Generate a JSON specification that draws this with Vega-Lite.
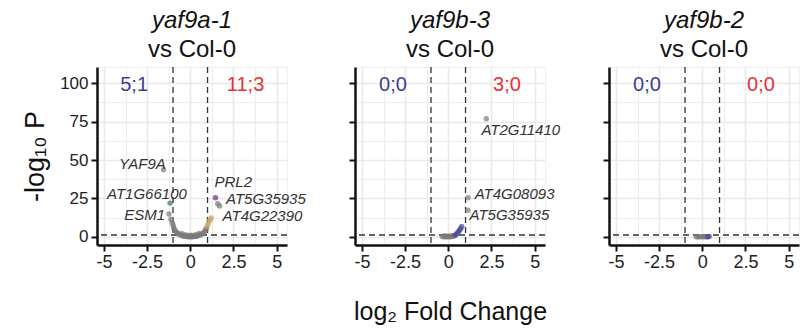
{
  "$schema": "https://vega.github.io/schema/vega-lite/v6.json",
  "padding": {"left": 21, "top": 8, "right": 2, "bottom": 2},
  "background": "white",
  "spacing": 40,
  "config": {
    "font": "Liberation Sans",
    "view": {"stroke": "#f0f0f0"},
    "title": {"font": "Liberation Sans", "fontSize": 24, "fontStyle": "italic", "fontWeight": "normal", "color": "#111", "subtitleFont": "Liberation Sans", "subtitleFontSize": 24, "subtitleColor": "#111", "subtitlePadding": 5, "offset": 4, "anchor": "middle", "frame": "group"},
    "axis": {"domainColor": "#111", "domainWidth": 2.5, "tickColor": "#111", "tickWidth": 2, "tickSize": 6, "gridColor": "#e9e9e9", "labelColor": "#222", "labelFont": "Liberation Sans", "labelFontSize": 17, "titleFont": "Liberation Sans", "titleFontWeight": "normal", "titleColor": "#111"}
  },
  "datasets": {
    "points": [
      {"panel": "A", "lfc": -1.55, "nlp": 43.7, "grp": "ns"},
      {"panel": "A", "lfc": -1.23, "nlp": 15, "grp": "ns"},
      {"panel": "A", "lfc": -1.12, "nlp": 11.5, "grp": "ns"},
      {"panel": "A", "lfc": -1.05, "nlp": 9.5, "grp": "ns"},
      {"panel": "A", "lfc": -1.0, "nlp": 8, "grp": "ns"},
      {"panel": "A", "lfc": -0.97, "nlp": 6.5, "grp": "ns"},
      {"panel": "A", "lfc": -0.93, "nlp": 5.2, "grp": "ns"},
      {"panel": "A", "lfc": -0.88, "nlp": 4.2, "grp": "ns"},
      {"panel": "A", "lfc": -0.82, "nlp": 3.3, "grp": "ns"},
      {"panel": "A", "lfc": -0.75, "nlp": 2.6, "grp": "ns"},
      {"panel": "A", "lfc": -0.68, "nlp": 2, "grp": "ns"},
      {"panel": "A", "lfc": -0.6, "nlp": 1.5, "grp": "ns"},
      {"panel": "A", "lfc": -0.52, "nlp": 1.1, "grp": "ns"},
      {"panel": "A", "lfc": -0.44, "nlp": 0.8, "grp": "ns"},
      {"panel": "A", "lfc": -0.36, "nlp": 0.55, "grp": "ns"},
      {"panel": "A", "lfc": -0.28, "nlp": 0.4, "grp": "ns"},
      {"panel": "A", "lfc": -0.2, "nlp": 0.3, "grp": "ns"},
      {"panel": "A", "lfc": -0.12, "nlp": 0.2, "grp": "ns"},
      {"panel": "A", "lfc": -0.04, "nlp": 0.15, "grp": "ns"},
      {"panel": "A", "lfc": 0.04, "nlp": 0.15, "grp": "ns"},
      {"panel": "A", "lfc": 0.12, "nlp": 0.2, "grp": "ns"},
      {"panel": "A", "lfc": 0.2, "nlp": 0.3, "grp": "ns"},
      {"panel": "A", "lfc": 0.28, "nlp": 0.4, "grp": "ns"},
      {"panel": "A", "lfc": 0.36, "nlp": 0.55, "grp": "ns"},
      {"panel": "A", "lfc": 0.44, "nlp": 0.8, "grp": "ns"},
      {"panel": "A", "lfc": 0.52, "nlp": 1.1, "grp": "ns"},
      {"panel": "A", "lfc": 0.6, "nlp": 1.5, "grp": "ns"},
      {"panel": "A", "lfc": 0.68, "nlp": 2, "grp": "ns"},
      {"panel": "A", "lfc": 0.75, "nlp": 2.6, "grp": "ns"},
      {"panel": "A", "lfc": 0.82, "nlp": 3.4, "grp": "ns"},
      {"panel": "A", "lfc": 0.88, "nlp": 4.5, "grp": "ns"},
      {"panel": "A", "lfc": 0.93, "nlp": 5.6, "grp": "ns"},
      {"panel": "A", "lfc": -0.3, "nlp": 1.5, "grp": "ns"},
      {"panel": "A", "lfc": 0.3, "nlp": 1.5, "grp": "ns"},
      {"panel": "A", "lfc": 0.0, "nlp": 1.2, "grp": "ns"},
      {"panel": "A", "lfc": -0.15, "nlp": 1.0, "grp": "ns"},
      {"panel": "A", "lfc": 0.15, "nlp": 1.0, "grp": "ns"},
      {"panel": "A", "lfc": -0.5, "nlp": 2.2, "grp": "ns"},
      {"panel": "A", "lfc": 0.5, "nlp": 2.2, "grp": "ns"},
      {"panel": "A", "lfc": 1.59, "nlp": 21.6, "grp": "ns"},
      {"panel": "A", "lfc": 1.7, "nlp": 20.2, "grp": "ns"},
      {"panel": "A", "lfc": -1.17, "nlp": 22, "grp": "green"},
      {"panel": "A", "lfc": 1.46, "nlp": 25.5, "grp": "purple"},
      {"panel": "A", "lfc": 0.98, "nlp": 7, "grp": "tan"},
      {"panel": "A", "lfc": 1.03, "nlp": 8.5, "grp": "tan"},
      {"panel": "A", "lfc": 1.08, "nlp": 10, "grp": "tan"},
      {"panel": "A", "lfc": 1.15, "nlp": 11.2, "grp": "tan"},
      {"panel": "A", "lfc": 1.21, "nlp": 12.3, "grp": "tan"},
      {"panel": "B", "lfc": 2.2, "nlp": 76.8, "grp": "ns"},
      {"panel": "B", "lfc": 1.14, "nlp": 25.5, "grp": "ns"},
      {"panel": "B", "lfc": 1.14, "nlp": 17.3, "grp": "ns"},
      {"panel": "B", "lfc": -0.35, "nlp": 0.3, "grp": "ns"},
      {"panel": "B", "lfc": -0.25, "nlp": 0.2, "grp": "ns"},
      {"panel": "B", "lfc": -0.15, "nlp": 0.1, "grp": "ns"},
      {"panel": "B", "lfc": -0.05, "nlp": 0.1, "grp": "ns"},
      {"panel": "B", "lfc": 0.05, "nlp": 0.1, "grp": "ns"},
      {"panel": "B", "lfc": 0.15, "nlp": 0.2, "grp": "ns"},
      {"panel": "B", "lfc": 0.25, "nlp": 0.4, "grp": "ns"},
      {"panel": "B", "lfc": -0.2, "nlp": 0.8, "grp": "ns"},
      {"panel": "B", "lfc": 0.0, "nlp": 0.6, "grp": "ns"},
      {"panel": "B", "lfc": 0.2, "nlp": 0.8, "grp": "ns"},
      {"panel": "B", "lfc": 0.35, "nlp": 0.8, "grp": "ns"},
      {"panel": "B", "lfc": 0.4, "nlp": 1.2, "grp": "navy"},
      {"panel": "B", "lfc": 0.47, "nlp": 1.8, "grp": "navy"},
      {"panel": "B", "lfc": 0.53, "nlp": 2.6, "grp": "navy"},
      {"panel": "B", "lfc": 0.6, "nlp": 3.5, "grp": "navy"},
      {"panel": "B", "lfc": 0.66, "nlp": 4.5, "grp": "navy"},
      {"panel": "B", "lfc": 0.72, "nlp": 5.5, "grp": "navy"},
      {"panel": "B", "lfc": 0.78, "nlp": 6.8, "grp": "navy"},
      {"panel": "C", "lfc": -0.35, "nlp": 0.2, "grp": "ns"},
      {"panel": "C", "lfc": -0.25, "nlp": 0.1, "grp": "ns"},
      {"panel": "C", "lfc": -0.15, "nlp": 0.1, "grp": "ns"},
      {"panel": "C", "lfc": -0.05, "nlp": 0.1, "grp": "ns"},
      {"panel": "C", "lfc": 0.05, "nlp": 0.1, "grp": "ns"},
      {"panel": "C", "lfc": 0.15, "nlp": 0.1, "grp": "ns"},
      {"panel": "C", "lfc": 0.25, "nlp": 0.2, "grp": "ns"},
      {"panel": "C", "lfc": 0.32, "nlp": 0.2, "grp": "navy"},
      {"panel": "C", "lfc": 0.4, "nlp": 0.3, "grp": "navy"}
    ],
    "labels": [
      {"panel": "A", "lx": -1.42, "ly": 47.6, "text": "YAF9A", "side": "right"},
      {"panel": "A", "lx": -0.2, "ly": 28, "text": "AT1G66100", "side": "right"},
      {"panel": "A", "lx": -1.46, "ly": 14.3, "text": "ESM1", "side": "right"},
      {"panel": "A", "lx": 1.4, "ly": 35.7, "text": "PRL2", "side": "left"},
      {"panel": "A", "lx": 2.07, "ly": 24.5, "text": "AT5G35935", "side": "left"},
      {"panel": "A", "lx": 1.87, "ly": 13.8, "text": "AT4G22390", "side": "left"},
      {"panel": "B", "lx": 1.92, "ly": 69.5, "text": "AT2G11410", "side": "left"},
      {"panel": "B", "lx": 1.53, "ly": 28, "text": "AT4G08093", "side": "left"},
      {"panel": "B", "lx": 1.23, "ly": 14.3, "text": "AT5G35935", "side": "left"}
    ],
    "counts": [
      {"panel": "A", "cx": -3.25, "cy": 99, "text": "5;1", "grp": "down"},
      {"panel": "A", "cx": 3.2, "cy": 99, "text": "11;3", "grp": "up"},
      {"panel": "B", "cx": -3.2, "cy": 99, "text": "0;0", "grp": "down"},
      {"panel": "B", "cx": 3.4, "cy": 99, "text": "3;0", "grp": "up"},
      {"panel": "C", "cx": -3.2, "cy": 99, "text": "0;0", "grp": "down"},
      {"panel": "C", "cx": 3.4, "cy": 99, "text": "0;0", "grp": "up"}
    ],
    "vlines": [{"v": -1}, {"v": 1}],
    "hlines": [{"h": 1.3}]
  },
  "hconcat": [
    {
      "title": {"text": "yaf9a-1", "subtitle": "vs Col-0"},
      "width": 190, "height": 178,
      "encoding": {
        "x": {"type": "quantitative", "scale": {"domain": [-5.4, 5.6], "nice": false, "zero": false},
          "axis": {"title": null, "values": [-5, -3.75, -2.5, -1.25, 0, 1.25, 2.5, 3.75, 5], "labelExpr": "datum.value % 2.5 == 0 ? toString(datum.value) : ''", "labelFontSize": 18, "labelPadding": 2, "tickOpacity": {"condition": {"test": "datum.value % 2.5 == 0", "value": 1}, "value": 0}, "gridWidth": {"condition": {"test": "datum.value % 2.5 == 0", "value": 1.6}, "value": 0.8}}},
        "y": {"type": "quantitative", "scale": {"domain": [-5.2, 110.4], "nice": false, "zero": false},
          "axis": {"title": "-log₁₀ P", "titleFontSize": 27, "titlePadding": 10, "values": [0, 12.5, 25, 37.5, 50, 62.5, 75, 87.5, 100], "labelExpr": "datum.value % 25 == 0 ? toString(datum.value) : ''", "labelPadding": 3, "tickOpacity": {"condition": {"test": "datum.value % 25 == 0", "value": 1}, "value": 0}, "gridWidth": {"condition": {"test": "datum.value % 25 == 0", "value": 1.6}, "value": 0.8}}}
      },
      "layer": [
        {"data": {"name": "vlines"}, "mark": {"type": "rule", "color": "#333", "strokeDash": [6, 4], "strokeWidth": 1.3}, "encoding": {"x": {"field": "v"}}},
        {"data": {"name": "hlines"}, "mark": {"type": "rule", "color": "#333", "strokeDash": [6, 4], "strokeWidth": 1.3}, "encoding": {"y": {"field": "h"}}},
        {"data": {"name": "points"}, "transform": [{"filter": "datum.panel == 'A'"}], "mark": {"type": "circle", "size": 30, "opacity": 0.7},
          "encoding": {"x": {"field": "lfc"}, "y": {"field": "nlp"}, "color": {"field": "grp", "type": "nominal", "legend": null, "scale": {"domain": ["ns", "green", "purple", "tan", "navy", "down", "up"], "range": ["#7a7a7a", "#2f7a5a", "#6b2a78", "#c8a46e", "#4a4a9a", "#3b3f8c", "#e8303a"]}}}},
        {"data": {"name": "labels"}, "transform": [{"filter": "datum.panel == 'A' && datum.side == 'right'"}], "mark": {"type": "text", "align": "right", "baseline": "middle", "fontSize": 15, "fontStyle": "italic", "color": "#333"},
          "encoding": {"x": {"field": "lx"}, "y": {"field": "ly"}, "text": {"field": "text"}}},
        {"data": {"name": "labels"}, "transform": [{"filter": "datum.panel == 'A' && datum.side == 'left'"}], "mark": {"type": "text", "align": "left", "baseline": "middle", "fontSize": 15, "fontStyle": "italic", "color": "#333"},
          "encoding": {"x": {"field": "lx"}, "y": {"field": "ly"}, "text": {"field": "text"}}},
        {"data": {"name": "counts"}, "transform": [{"filter": "datum.panel == 'A'"}], "mark": {"type": "text", "align": "center", "baseline": "middle", "fontSize": 20},
          "encoding": {"x": {"field": "cx"}, "y": {"field": "cy"}, "text": {"field": "text"}, "color": {"field": "grp", "type": "nominal", "legend": null, "scale": {"domain": ["ns", "green", "purple", "tan", "navy", "down", "up"], "range": ["#7a7a7a", "#2f7a5a", "#6b2a78", "#c8a46e", "#4a4a9a", "#3b3f8c", "#e8303a"]}}}}
      ]
    },
    {
      "title": {"text": "yaf9b-3", "subtitle": "vs Col-0"},
      "width": 190, "height": 178,
      "encoding": {
        "x": {"type": "quantitative", "scale": {"domain": [-5.4, 5.6], "nice": false, "zero": false},
          "axis": {"title": "log₂ Fold Change", "titleFontSize": 25, "titlePadding": 28, "values": [-5, -3.75, -2.5, -1.25, 0, 1.25, 2.5, 3.75, 5], "labelExpr": "datum.value % 2.5 == 0 ? toString(datum.value) : ''", "labelFontSize": 18, "labelPadding": 2, "tickOpacity": {"condition": {"test": "datum.value % 2.5 == 0", "value": 1}, "value": 0}, "gridWidth": {"condition": {"test": "datum.value % 2.5 == 0", "value": 1.6}, "value": 0.8}}},
        "y": {"type": "quantitative", "scale": {"domain": [-5.2, 110.4], "nice": false, "zero": false},
          "axis": {"title": null, "values": [0, 12.5, 25, 37.5, 50, 62.5, 75, 87.5, 100], "labelExpr": "''", "labelPadding": 0, "tickOpacity": {"condition": {"test": "datum.value % 25 == 0", "value": 1}, "value": 0}, "gridWidth": {"condition": {"test": "datum.value % 25 == 0", "value": 1.6}, "value": 0.8}}}
      },
      "layer": [
        {"data": {"name": "vlines"}, "mark": {"type": "rule", "color": "#333", "strokeDash": [6, 4], "strokeWidth": 1.3}, "encoding": {"x": {"field": "v"}}},
        {"data": {"name": "hlines"}, "mark": {"type": "rule", "color": "#333", "strokeDash": [6, 4], "strokeWidth": 1.3}, "encoding": {"y": {"field": "h"}}},
        {"data": {"name": "points"}, "transform": [{"filter": "datum.panel == 'B'"}], "mark": {"type": "circle", "size": 30, "opacity": 0.7},
          "encoding": {"x": {"field": "lfc"}, "y": {"field": "nlp"}, "color": {"field": "grp", "type": "nominal", "legend": null, "scale": {"domain": ["ns", "green", "purple", "tan", "navy", "down", "up"], "range": ["#7a7a7a", "#2f7a5a", "#6b2a78", "#c8a46e", "#4a4a9a", "#3b3f8c", "#e8303a"]}}}},
        {"data": {"name": "labels"}, "transform": [{"filter": "datum.panel == 'B' && datum.side == 'left'"}], "mark": {"type": "text", "align": "left", "baseline": "middle", "fontSize": 15, "fontStyle": "italic", "color": "#333"},
          "encoding": {"x": {"field": "lx"}, "y": {"field": "ly"}, "text": {"field": "text"}}},
        {"data": {"name": "counts"}, "transform": [{"filter": "datum.panel == 'B'"}], "mark": {"type": "text", "align": "center", "baseline": "middle", "fontSize": 20},
          "encoding": {"x": {"field": "cx"}, "y": {"field": "cy"}, "text": {"field": "text"}, "color": {"field": "grp", "type": "nominal", "legend": null, "scale": {"domain": ["ns", "green", "purple", "tan", "navy", "down", "up"], "range": ["#7a7a7a", "#2f7a5a", "#6b2a78", "#c8a46e", "#4a4a9a", "#3b3f8c", "#e8303a"]}}}}
      ]
    },
    {
      "title": {"text": "yaf9b-2", "subtitle": "vs Col-0"},
      "width": 190, "height": 178,
      "encoding": {
        "x": {"type": "quantitative", "scale": {"domain": [-5.4, 5.6], "nice": false, "zero": false},
          "axis": {"title": null, "values": [-5, -3.75, -2.5, -1.25, 0, 1.25, 2.5, 3.75, 5], "labelExpr": "datum.value % 2.5 == 0 ? toString(datum.value) : ''", "labelFontSize": 18, "labelPadding": 2, "tickOpacity": {"condition": {"test": "datum.value % 2.5 == 0", "value": 1}, "value": 0}, "gridWidth": {"condition": {"test": "datum.value % 2.5 == 0", "value": 1.6}, "value": 0.8}}},
        "y": {"type": "quantitative", "scale": {"domain": [-5.2, 110.4], "nice": false, "zero": false},
          "axis": {"title": null, "values": [0, 12.5, 25, 37.5, 50, 62.5, 75, 87.5, 100], "labelExpr": "''", "labelPadding": 0, "tickOpacity": {"condition": {"test": "datum.value % 25 == 0", "value": 1}, "value": 0}, "gridWidth": {"condition": {"test": "datum.value % 25 == 0", "value": 1.6}, "value": 0.8}}}
      },
      "layer": [
        {"data": {"name": "vlines"}, "mark": {"type": "rule", "color": "#333", "strokeDash": [6, 4], "strokeWidth": 1.3}, "encoding": {"x": {"field": "v"}}},
        {"data": {"name": "hlines"}, "mark": {"type": "rule", "color": "#333", "strokeDash": [6, 4], "strokeWidth": 1.3}, "encoding": {"y": {"field": "h"}}},
        {"data": {"name": "points"}, "transform": [{"filter": "datum.panel == 'C'"}], "mark": {"type": "circle", "size": 30, "opacity": 0.7},
          "encoding": {"x": {"field": "lfc"}, "y": {"field": "nlp"}, "color": {"field": "grp", "type": "nominal", "legend": null, "scale": {"domain": ["ns", "green", "purple", "tan", "navy", "down", "up"], "range": ["#7a7a7a", "#2f7a5a", "#6b2a78", "#c8a46e", "#4a4a9a", "#3b3f8c", "#e8303a"]}}}},
        {"data": {"name": "counts"}, "transform": [{"filter": "datum.panel == 'C'"}], "mark": {"type": "text", "align": "center", "baseline": "middle", "fontSize": 20},
          "encoding": {"x": {"field": "cx"}, "y": {"field": "cy"}, "text": {"field": "text"}, "color": {"field": "grp", "type": "nominal", "legend": null, "scale": {"domain": ["ns", "green", "purple", "tan", "navy", "down", "up"], "range": ["#7a7a7a", "#2f7a5a", "#6b2a78", "#c8a46e", "#4a4a9a", "#3b3f8c", "#e8303a"]}}}}
      ]
    }
  ]
}
